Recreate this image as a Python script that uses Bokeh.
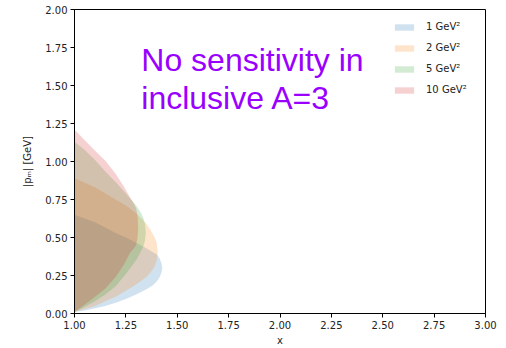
from bokeh.plotting import figure
from bokeh.models import Label, FixedTicker, PrintfTickFormatter, Range1d
from bokeh.embed import file_html
from bokeh.resources import INLINE

# Allowed missing-momentum band |p_m| versus x, one band per Q^2
q2_labels = ["1 GeV²", "2 GeV²", "5 GeV²", "10 GeV²"]
band_colors = ["#1f77b4", "#ff7f0e", "#2ca02c", "#d62728"]

x_q1 = [1.00, 1.05, 1.10, 1.15, 1.20, 1.25, 1.30, 1.35, 1.38, 1.40, 1.415, 1.423, 1.427]
pmax_q1 = [0.65, 0.625, 0.60, 0.565, 0.53, 0.50, 0.465, 0.43, 0.405, 0.39, 0.36, 0.33, 0.30]
pmin_q1 = [0.01, 0.02, 0.035, 0.05, 0.07, 0.095, 0.125, 0.16, 0.185, 0.21, 0.24, 0.27, 0.30]

x_q2 = [1.00, 1.05, 1.10, 1.15, 1.20, 1.25, 1.30, 1.35, 1.37, 1.39, 1.40, 1.405]
pmax_q2 = [0.89, 0.86, 0.83, 0.79, 0.75, 0.71, 0.66, 0.59, 0.55, 0.50, 0.465, 0.41]
pmin_q2 = [0.01, 0.03, 0.05, 0.08, 0.11, 0.15, 0.19, 0.24, 0.27, 0.31, 0.35, 0.40]

x_q5 = [1.00, 1.05, 1.10, 1.15, 1.20, 1.25, 1.30, 1.32, 1.335, 1.343, 1.347]
pmax_q5 = [1.13, 1.075, 1.01, 0.935, 0.865, 0.79, 0.71, 0.67, 0.63, 0.59, 0.535]
pmin_q5 = [0.01, 0.045, 0.08, 0.125, 0.18, 0.26, 0.35, 0.40, 0.44, 0.48, 0.535]

x_q10 = [1.00, 1.05, 1.10, 1.15, 1.20, 1.24, 1.27, 1.29, 1.30, 1.307, 1.31]
pmax_q10 = [1.21, 1.14, 1.07, 1.005, 0.92, 0.835, 0.765, 0.72, 0.69, 0.64, 0.57]
pmin_q10 = [0.01, 0.06, 0.11, 0.165, 0.24, 0.32, 0.40, 0.43, 0.45, 0.50, 0.57]

x_ticks = [1.00, 1.25, 1.50, 1.75, 2.00, 2.25, 2.50, 2.75, 3.00]
y_ticks = [0.00, 0.25, 0.50, 0.75, 1.00, 1.25, 1.50, 1.75, 2.00]

bands = [
    (x_q1, pmin_q1, pmax_q1),
    (x_q2, pmin_q2, pmax_q2),
    (x_q5, pmin_q5, pmax_q5),
    (x_q10, pmin_q10, pmax_q10),
]

p = figure(width=506, height=348, output_backend="svg", toolbar_location=None,
           x_range=Range1d(1.0, 3.0), y_range=Range1d(0.0, 2.0),
           min_border_left=74, min_border_right=21, min_border_top=9, min_border_bottom=34)

for (xs, lo, hi), color, label in zip(bands, band_colors, q2_labels):
    p.varea(x=xs, y1=lo, y2=hi, fill_color=color, fill_alpha=0.21, legend_label=label)

p.grid.visible = False
p.outline_line_color = "black"
p.outline_line_width = 1
p.background_fill_color = "white"
p.border_fill_color = "white"

for ax in (p.xaxis[0], p.yaxis[0]):
    ax.major_tick_in = 0
    ax.major_tick_out = 4
    ax.minor_tick_in = 0
    ax.minor_tick_out = 0
    ax.axis_line_color = "black"
    ax.major_tick_line_color = "black"
    ax.major_label_text_font = "DejaVu Sans"
    ax.major_label_text_font_size = "10px"
    ax.major_label_text_color = "#222222"
    ax.axis_label_text_font = "DejaVu Sans"
    ax.axis_label_text_font_size = "10px"
    ax.axis_label_text_font_style = "normal"
    ax.axis_label_text_color = "#222222"
    ax.formatter = PrintfTickFormatter(format="%.2f")
    ax.major_label_standoff = 3

p.xaxis[0].axis_label_standoff = 3
p.yaxis[0].axis_label_standoff = 9
p.xaxis[0].ticker = FixedTicker(ticks=x_ticks)
p.yaxis[0].ticker = FixedTicker(ticks=y_ticks)
p.xaxis[0].axis_label = "x"
p.yaxis[0].axis_label = "|pₘ| [GeV]"

leg = p.legend[0]
leg.location = (313, 212)
leg.border_line_alpha = 0
leg.background_fill_alpha = 0
leg.label_text_font = "DejaVu Sans"
leg.label_text_font_size = "10px"
leg.label_text_color = "#222222"
leg.glyph_width = 24
leg.glyph_height = 8
leg.label_height = 13
leg.spacing = 8
leg.label_standoff = 10
leg.padding = 5
leg.margin = 0

note_font = "Liberation Sans"
for txt, yb in (("No sensitivity in", 1.666), ("inclusive A=3", 1.416)):
    p.add_layout(Label(x=1.325, y=yb, text=txt, text_font=note_font,
                       text_font_size="32px", text_color="#9900ff",
                       text_baseline="alphabetic", text_align="left"))

open("out.html", "w").write(file_html(p, INLINE))
